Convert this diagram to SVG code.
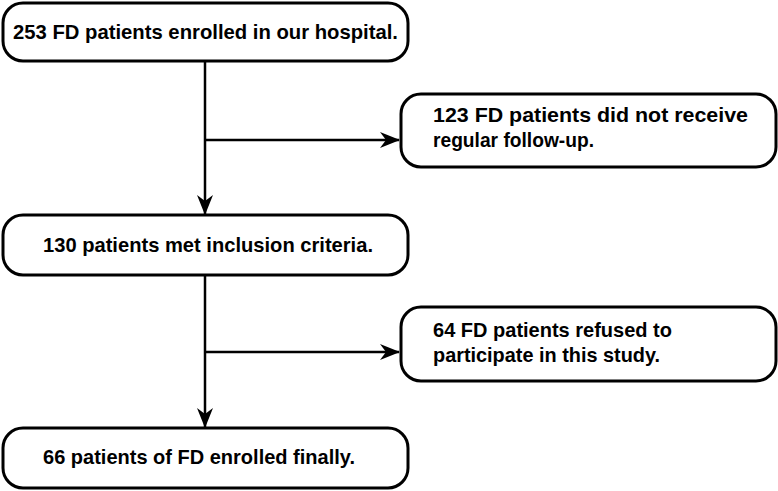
<svg xmlns="http://www.w3.org/2000/svg" width="778" height="491" viewBox="0 0 778 491">
<defs>
<style>
.box{fill:#fff;stroke:#000;stroke-width:3}
.t{font-family:"Liberation Sans",Arial,sans-serif;font-weight:bold;font-size:20.5px;fill:#000}
.c{text-anchor:middle}
.ln{stroke:#000;stroke-width:2.5;fill:none}
</style>
<marker id="ah" viewBox="0 0 20 20" refX="19" refY="10" markerWidth="20" markerHeight="20" markerUnits="userSpaceOnUse" orient="auto">
<path d="M0,2 L20,10 L0,18 L6,10 Z" fill="#000"/>
</marker>
</defs>
<rect width="778" height="491" fill="#fff"/>
<g id="connectors">
<path class="ln" d="M205,61 V214" marker-end="url(#ah)"/>
<path class="ln" d="M205,140 H399" marker-end="url(#ah)"/>
<path class="ln" d="M205,275 V427" marker-end="url(#ah)"/>
<path class="ln" d="M205,352 H399" marker-end="url(#ah)"/>
</g>
<g id="n1"><rect class="box" x="3" y="3" width="405" height="58" rx="20"/><text class="t c" x="205.5" y="39" textLength="385" lengthAdjust="spacingAndGlyphs">253 FD patients enrolled in our hospital.</text></g>
<g id="n2"><rect class="box" x="401" y="94" width="375" height="73" rx="20"/><text class="t" x="433" y="122" textLength="315" lengthAdjust="spacingAndGlyphs">123 FD patients did not receive</text><text class="t" x="433" y="147" textLength="161" lengthAdjust="spacingAndGlyphs">regular follow-up.</text></g>
<g id="n3"><rect class="box" x="3" y="215" width="405" height="60" rx="20"/><text class="t c" x="208" y="252" textLength="330" lengthAdjust="spacingAndGlyphs">130 patients met inclusion criteria.</text></g>
<g id="n4"><rect class="box" x="401" y="307" width="375" height="74" rx="20"/><text class="t" x="433" y="337" textLength="239" lengthAdjust="spacingAndGlyphs">64 FD patients refused to</text><text class="t" x="433" y="362" textLength="227" lengthAdjust="spacingAndGlyphs">participate in this study.</text></g>
<g id="n5"><rect class="box" x="3" y="428" width="405" height="60" rx="20"/><text class="t c" x="199" y="464" textLength="312" lengthAdjust="spacingAndGlyphs">66 patients of FD enrolled finally.</text></g>
</svg>
